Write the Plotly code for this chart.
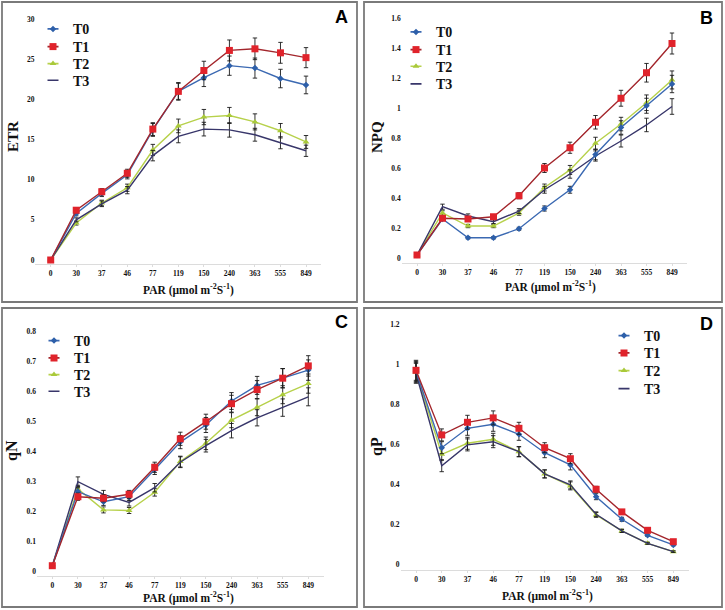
import plotly.graph_objects as go

# ---------------- data ----------------
categories = ["0", "30", "37", "46", "77", "119", "150", "240", "363", "555", "849"]
series_names = ["T0", "T1", "T2", "T3"]

etr_T0 = [0, 5.8, 8.3, 10.6, 16.2, 21.0, 22.7, 24.2, 23.9, 22.6, 21.8]
etr_T1 = [0, 6.2, 8.5, 10.8, 16.3, 21.0, 23.6, 26.1, 26.3, 25.8, 25.2]
etr_T2 = [0, 4.6, 7.1, 9.0, 13.7, 16.7, 17.8, 18.0, 17.2, 16.1, 14.7]
etr_T3 = [0, 5.0, 7.0, 8.7, 13.0, 15.4, 16.3, 16.2, 15.6, 14.6, 13.6]
etr_err_T0 = [0.1, 0.3, 0.4, 0.5, 0.8, 1.0, 1.1, 1.2, 1.25, 1.15, 1.1]
etr_err_T1 = [0.1, 0.3, 0.4, 0.5, 0.8, 1.1, 1.15, 1.3, 1.35, 1.3, 1.25]
etr_err_T2 = [0.1, 0.25, 0.35, 0.45, 0.7, 0.85, 0.95, 1.0, 1.0, 0.9, 0.8]
etr_err_T3 = [0.1, 0.25, 0.35, 0.45, 0.65, 0.8, 0.85, 0.9, 0.8, 0.75, 0.7]

npq_T0 = [0.02, 0.26, 0.135, 0.135, 0.195, 0.33, 0.455, 0.69, 0.87, 1.015, 1.16]
npq_T1 = [0.02, 0.265, 0.26, 0.275, 0.415, 0.60, 0.735, 0.905, 1.065, 1.235, 1.43]
npq_T2 = [0.02, 0.30, 0.213, 0.213, 0.30, 0.47, 0.587, 0.765, 0.893, 1.035, 1.187]
npq_T3 = [0.02, 0.342, 0.28, 0.242, 0.313, 0.455, 0.56, 0.68, 0.78, 0.887, 1.01]
npq_err_T0 = [0.005, 0.01, 0.008, 0.008, 0.01, 0.017, 0.023, 0.035, 0.045, 0.05, 0.058]
npq_err_T1 = [0.005, 0.013, 0.013, 0.014, 0.02, 0.03, 0.037, 0.045, 0.053, 0.062, 0.07]
npq_err_T2 = [0.005, 0.015, 0.011, 0.011, 0.015, 0.023, 0.03, 0.04, 0.045, 0.052, 0.06]
npq_err_T3 = [0.005, 0.017, 0.014, 0.012, 0.016, 0.023, 0.028, 0.034, 0.04, 0.045, 0.052]

qn_T0 = [0.02, 0.267, 0.233, 0.25, 0.341, 0.432, 0.489, 0.569, 0.621, 0.645, 0.672]
qn_T1 = [0.02, 0.25, 0.245, 0.258, 0.348, 0.443, 0.50, 0.56, 0.607, 0.645, 0.686]
qn_T2 = [0.02, 0.276, 0.206, 0.204, 0.265, 0.367, 0.428, 0.505, 0.548, 0.59, 0.627]
qn_T3 = [0.02, 0.30, 0.258, 0.231, 0.28, 0.365, 0.42, 0.47, 0.513, 0.547, 0.583]
qn_err_T0 = [0.003, 0.013, 0.012, 0.013, 0.017, 0.022, 0.025, 0.028, 0.03, 0.032, 0.034]
qn_err_T1 = [0.003, 0.012, 0.012, 0.013, 0.017, 0.022, 0.025, 0.028, 0.03, 0.032, 0.034]
qn_err_T2 = [0.003, 0.012, 0.01, 0.01, 0.013, 0.018, 0.021, 0.025, 0.028, 0.03, 0.032]
qn_err_T3 = [0.003, 0.016, 0.013, 0.012, 0.014, 0.018, 0.021, 0.024, 0.027, 0.029, 0.03]

qp_T0 = [0.965, 0.583, 0.68, 0.70, 0.65, 0.558, 0.497, 0.338, 0.225, 0.145, 0.097]
qp_T1 = [0.97, 0.647, 0.71, 0.732, 0.68, 0.583, 0.528, 0.375, 0.262, 0.17, 0.113]
qp_T2 = [0.96, 0.55, 0.605, 0.625, 0.563, 0.452, 0.392, 0.247, 0.167, 0.105, 0.063]
qp_T3 = [0.955, 0.493, 0.597, 0.613, 0.563, 0.452, 0.397, 0.25, 0.167, 0.105, 0.063]
qp_err_T0 = [0.05, 0.03, 0.035, 0.035, 0.03, 0.025, 0.025, 0.015, 0.01, 0.006, 0.005]
qp_err_T1 = [0.05, 0.03, 0.035, 0.035, 0.03, 0.025, 0.025, 0.015, 0.01, 0.006, 0.005]
qp_err_T2 = [0.05, 0.03, 0.03, 0.03, 0.025, 0.02, 0.02, 0.012, 0.008, 0.005, 0.004]
qp_err_T3 = [0.05, 0.03, 0.03, 0.03, 0.025, 0.02, 0.02, 0.012, 0.008, 0.005, 0.004]

y_ticks_etr = [0, 5, 10, 15, 20, 25, 30]
y_ticks_npq = [0, 0.2, 0.4, 0.6, 0.8, 1.0, 1.2, 1.4, 1.6]
y_ticks_qn = [0, 0.1, 0.2, 0.3, 0.4, 0.5, 0.6, 0.7, 0.8]
y_ticks_qp = [0, 0.2, 0.4, 0.6, 0.8, 1.0, 1.2]

# ---------------- styling ----------------
W, H = 725, 610
SERIF = "Liberation Serif"
SANS = "Liberation Sans"

style = {
    "T0": dict(line="#3b69b2", marker="#2d5fa9", symbol="diamond", size=5),
    "T1": dict(line="#a3262c", marker="#e0232b", symbol="square", size=7),
    "T2": dict(line="#b7d14b", marker="#a9c93a", symbol="triangle-up", size=6),
    "T3": dict(line="#38366a", marker="#38366a", symbol=None, size=0),
}
draw_order = ["T2", "T3", "T0", "T1"]


def px_x(p):
    return p / W


def px_y(p):
    return 1 - p / H


panels = [
    dict(key="", letter="A", ytitle="ETR",
         data={"T0": (etr_T0, etr_err_T0), "T1": (etr_T1, etr_err_T1),
               "T2": (etr_T2, etr_err_T2), "T3": (etr_T3, etr_err_T3)},
         yticks=y_ticks_etr, ytext=[str(v) for v in y_ticks_etr],
         x0=50.7, dx=25.53, y0px=260, ypu=8.03, yr=[-0.5, 31],
         box=(2, 2, 357, 302), letter_xy=(341.5, 16.7),
         ytitle_xy=(13, 137), xtitle_xy=(188, 289),
         leg_x=33, leg_rows=[29.3, 47, 64, 80.7], ysize=15),
    dict(key="2", letter="B", ytitle="NPQ",
         data={"T0": (npq_T0, npq_err_T0), "T1": (npq_T1, npq_err_T1),
               "T2": (npq_T2, npq_err_T2), "T3": (npq_T3, npq_err_T3)},
         yticks=y_ticks_npq, ytext=["0", "0.2", "0.4", "0.6", "0.8", "1", "1.2", "1.4", "1.6"],
         x0=417, dx=25.5, y0px=258, ypu=150, yr=[-0.03, 1.65],
         box=(364, 2, 722, 302), letter_xy=(706, 18.5),
         ytitle_xy=(377, 137), xtitle_xy=(550, 287),
         leg_x=396, leg_rows=[32.3, 50, 66.7, 84.3], ysize=15),
    dict(key="3", letter="C", ytitle="qN",
         data={"T0": (qn_T0, qn_err_T0), "T1": (qn_T1, qn_err_T1),
               "T2": (qn_T2, qn_err_T2), "T3": (qn_T3, qn_err_T3)},
         yticks=y_ticks_qn, ytext=["0", "0.1", "0.2", "0.3", "0.4", "0.5", "0.6", "0.7", "0.8"],
         x0=52.3, dx=25.6, y0px=571.7, ypu=300, yr=[-0.015, 0.82],
         box=(2, 308, 357, 607), letter_xy=(341.5, 321.7),
         ytitle_xy=(12, 451), xtitle_xy=(188, 597),
         leg_x=34, leg_rows=[341, 358.3, 375, 391.7], ysize=16),
    dict(key="4", letter="D", ytitle="qP",
         data={"T0": (qp_T0, qp_err_T0), "T1": (qp_T1, qp_err_T1),
               "T2": (qp_T2, qp_err_T2), "T3": (qp_T3, qp_err_T3)},
         yticks=y_ticks_qp, ytext=["0", "0.2", "0.4", "0.6", "0.8", "1", "1.2"],
         x0=416, dx=25.73, y0px=564.3, ypu=200, yr=[-0.03, 1.22],
         box=(364, 308, 722, 607), letter_xy=(706, 324),
         ytitle_xy=(377, 447), xtitle_xy=(547, 595),
         leg_x=604, leg_rows=[336, 353.3, 371, 389], ysize=16),
]

fig = go.Figure()
layout = dict(
    width=W, height=H, margin=dict(l=0, r=0, t=0, b=0, autoexpand=False),
    paper_bgcolor="white", plot_bgcolor="rgba(0,0,0,0)",
    showlegend=True, shapes=[], annotations=[],
)

xr = [-0.6, 10.6]
tick_font = dict(family=SERIF, size=7.5, color="#111", weight="bold")
x_idx = list(range(len(categories)))
legend_counter = 1

for i, p in enumerate(panels):
    k = p["key"]
    xa, ya = "x" + k, "y" + k
    left = p["x0"] + xr[0] * p["dx"]
    right = p["x0"] + xr[1] * p["dx"]
    bottom = p["y0px"] - p["yr"][0] * p["ypu"]
    top = p["y0px"] - p["yr"][1] * p["ypu"]
    layout["xaxis" + k] = dict(
        domain=[px_x(left), px_x(right)], range=xr, anchor=ya,
        tickvals=x_idx, ticktext=categories, tickfont=tick_font,
        showgrid=False, zeroline=False, showline=True, linecolor="#dcdcdc",
        linewidth=1, ticks="outside", ticklen=2, tickcolor="#dcdcdc",
    )
    layout["yaxis" + k] = dict(
        domain=[px_y(bottom), px_y(top)], range=p["yr"], anchor=xa,
        tickvals=p["yticks"], ticktext=p["ytext"], tickfont=tick_font,
        showgrid=False, zeroline=False, showline=False, ticks="",
    )
    for name in draw_order:
        vals, err = p["data"][name]
        st = style[name]
        mode = "lines+markers" if st["symbol"] else "lines"
        tr = dict(
            x=x_idx, y=vals, mode=mode, xaxis=xa, yaxis=ya, showlegend=False,
            line=dict(color=st["line"], width=1.4), cliponaxis=False,
            error_y=dict(type="data", array=err, visible=True, color="#1a1a1a",
                         thickness=0.9, width=2.2),
        )
        if st["symbol"]:
            tr["marker"] = dict(symbol=st["symbol"], size=st["size"], color=st["marker"],
                                line=dict(width=0))
        fig.add_trace(go.Scatter(**tr))
    # one legend box per entry so the rows can sit as tightly as in the reference
    for j, name in enumerate(series_names):
        legend_counter += 1
        legname = "legend%d" % legend_counter
        st = style[name]
        mode = "lines+markers" if st["symbol"] else "lines"
        tr = dict(
            x=[None], y=[None], mode=mode, xaxis=xa, yaxis=ya, legend=legname,
            name=name,
            line=dict(color=st["line"], width=1.6, dash="0px,9.5px,11px,30px"),
        )
        if st["symbol"]:
            tr["marker"] = dict(symbol=st["symbol"], size=st["size"], color=st["marker"])
        fig.add_trace(go.Scatter(**tr))
        layout[legname] = dict(
            x=px_x(p["leg_x"]), y=px_y(p["leg_rows"][j]),
            xanchor="left", yanchor="middle",
            bgcolor="rgba(0,0,0,0)", borderwidth=0,
            font=dict(family=SERIF, size=14, color="#111", weight="bold"),
            itemclick=False, itemdoubleclick=False,
        )
    bx0, by0, bx1, by1 = p["box"]
    layout["shapes"].append(dict(
        type="rect", xref="paper", yref="paper",
        x0=px_x(bx0), x1=px_x(bx1), y0=px_y(by1), y1=px_y(by0),
        line=dict(color="#7a7a7a", width=1.8), fillcolor="rgba(0,0,0,0)",
    ))
    lx2, ly2 = p["letter_xy"]
    layout["annotations"].append(dict(
        text="<b>" + p["letter"] + "</b>", x=px_x(lx2), y=px_y(ly2),
        xref="paper", yref="paper", showarrow=False, xanchor="center", yanchor="middle",
        font=dict(family=SANS, size=18, color="#000"),
    ))
    tx, ty = p["ytitle_xy"]
    layout["annotations"].append(dict(
        text="<b>" + p["ytitle"] + "</b>", x=px_x(tx), y=px_y(ty),
        xref="paper", yref="paper", showarrow=False, textangle=-90,
        xanchor="center", yanchor="middle",
        font=dict(family=SERIF, size=p["ysize"], color="#111"),
    ))
    tx, ty = p["xtitle_xy"]
    layout["annotations"].append(dict(
        text="<b>PAR (µmol m<sup>-2</sup>S<sup>-1</sup>)</b>", x=px_x(tx), y=px_y(ty),
        xref="paper", yref="paper", showarrow=False, xanchor="center", yanchor="middle",
        font=dict(family=SERIF, size=11.5, color="#111"),
    ))

fig.update_layout(**layout)
fig.write_html(
    "out.html",
    config={"displayModeBar": False},
    post_script="document.body.style.margin='0';document.body.style.overflow='hidden';",
)
